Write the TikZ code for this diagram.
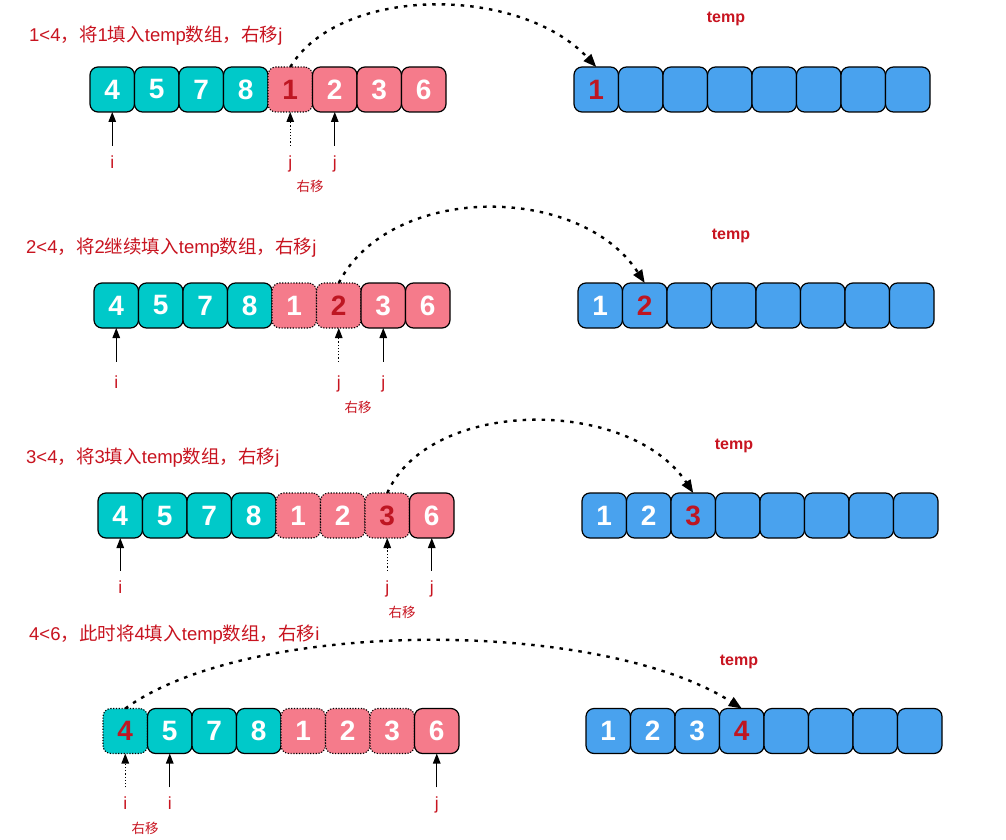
\documentclass[tikz,border=0pt]{standalone}
\usepackage{fontspec}
\setmainfont{Liberation Sans}
\newfontfamily\cjk{Noto Sans CJK SC}
\usetikzlibrary{arrows.meta}
\definecolor{tealc}{RGB}{0,201,201}
\definecolor{pinkc}{RGB}{245,123,139}
\definecolor{bluec}{RGB}{73,162,238}
\definecolor{redt}{RGB}{200,20,32}
\definecolor{numred}{RGB}{190,22,34}
\tikzset{
  cell/.style={draw=black, line width=1.2pt, rounded corners=8pt,
    minimum width=44.5pt, minimum height=45pt, inner sep=0pt, outer sep=0pt,
    text=white, font=\fontsize{28}{28}\selectfont\bfseries},
  dotb/.style={line width=1.1pt, dash pattern=on 1.2pt off 1.6pt},
  tl/.style={cell, fill=tealc},
  tlm/.style={tl, dotb, text=numred},
  pk/.style={cell, fill=pinkc},
  pkd/.style={pk, dotb},
  pkm/.style={pk, dotb, text=numred},
  bl/.style={cell, fill=bluec},
  blr/.style={bl, text=numred},
  ptr/.style={line width=1.3pt, -{Triangle[length=10pt,width=7.5pt]}, shorten <=10pt},
  ptrd/.style={ptr, dash pattern=on 1.2pt off 2pt},
  lab/.style={anchor=base, inner sep=0pt, text=redt, text height=12pt, text depth=4pt,
    font=\fontsize{17.5}{17.5}\selectfont},
  mv/.style={inner sep=0pt, text=redt, font=\cjk\fontsize{13.5}{13.5}\selectfont},
  ttl/.style={anchor=base west, inner sep=0pt, text=redt, font=\fontsize{18.5}{18.5}\selectfont},
  tmp/.style={anchor=base, inner sep=0pt, text=redt, font=\fontsize{16}{16}\selectfont\bfseries},
  curve/.style={line width=2.4pt, dash pattern=on 3.5pt off 6pt, -{Triangle[length=13pt,width=10pt]}}
}
\begin{document}
\begin{tikzpicture}[x=1pt,y=-1pt]
\useasboundingbox (0,0) rectangle (1006,840);
\fill[white] (0,0) rectangle (1006,840);

% ---------- row 1 ----------
\node[ttl] (h1) at (29,42) {1<4{\cjk ，将}1{\cjk 填入}temp{\cjk 数组，右移}j};
\node[tmp] (tp1) at (726,23) {temp};
\foreach \v/\s [count=\k] in {4/tl,5/tl,7/tl,8/tl,1/pkm,2/pk,3/pk,6/pk}
  \node[\s] (L1-\k) at ({90+22.25+(\k-1)*44.5},89.5) {\v};
\foreach \v/\s [count=\k] in {1/blr, /bl, /bl, /bl, /bl, /bl, /bl, /bl}
  \node[\s] (T1-\k) at ({574+22.25+(\k-1)*44.5},89.5) {\v};
\node[lab] (a1) at ([yshift=-56pt]L1-1.south) {i};
\node[lab] (b1) at ([yshift=-56pt]L1-5.south) {j};
\node[lab] (c1) at ([yshift=-56pt]L1-6.south) {j};
\node[mv] (m1) at (310,186) {右移};
\draw[ptr] (a1.north) -- (L1-1.south);
\draw[ptrd] (b1.north) -- (L1-5.south);
\draw[ptr] (c1.north) -- (L1-6.south);
\draw[curve] (L1-5.north) .. controls (340,-15) and (520,-15) .. (T1-1.north);

% ---------- row 2 ----------
\node[ttl] (h2) at (26,253) {2<4{\cjk ，将}2{\cjk 继续填入}temp{\cjk 数组，右移}j};
\node[tmp] (tp2) at (731,239) {temp};
\foreach \v/\s [count=\k] in {4/tl,5/tl,7/tl,8/tl,1/pkd,2/pkm,3/pk,6/pk}
  \node[\s] (L2-\k) at ({94+22.25+(\k-1)*44.5},305.5) {\v};
\foreach \v/\s [count=\k] in {1/bl, 2/blr, /bl, /bl, /bl, /bl, /bl, /bl}
  \node[\s] (T2-\k) at ({578+22.25+(\k-1)*44.5},305.5) {\v};
\node[lab] (a2) at ([yshift=-60pt]L2-1.south) {i};
\node[lab] (b2) at ([yshift=-60pt]L2-6.south) {j};
\node[lab] (c2) at ([yshift=-60pt]L2-7.south) {j};
\node[mv] (m2) at (358,407) {右移};
\draw[ptr, shorten <=14pt] (a2.north) -- (L2-1.south);
\draw[ptrd, shorten <=14pt] (b2.north) -- (L2-6.south);
\draw[ptr, shorten <=14pt] (c2.north) -- (L2-7.south);
\draw[curve] (L2-6.north) .. controls (390,183) and (580,183) .. (T2-2.north);

% ---------- row 3 ----------
\node[ttl] (h3) at (26,463) {3<4{\cjk ，将}3{\cjk 填入}temp{\cjk 数组，右移}j};
\node[tmp] (tp3) at (734,449) {temp};
\foreach \v/\s [count=\k] in {4/tl,5/tl,7/tl,8/tl,1/pkd,2/pkd,3/pkm,6/pk}
  \node[\s] (L3-\k) at ({98+22.25+(\k-1)*44.5},515.5) {\v};
\foreach \v/\s [count=\k] in {1/bl, 2/bl, 3/blr, /bl, /bl, /bl, /bl, /bl}
  \node[\s] (T3-\k) at ({582+22.25+(\k-1)*44.5},515.5) {\v};
\node[lab] (a3) at ([yshift=-55pt]L3-1.south) {i};
\node[lab] (b3) at ([yshift=-55pt]L3-7.south) {j};
\node[lab] (c3) at ([yshift=-55pt]L3-8.south) {j};
\node[mv] (m3) at (402,612) {右移};
\draw[ptr] (a3.north) -- (L3-1.south);
\draw[ptrd] (b3.north) -- (L3-7.south);
\draw[ptr] (c3.north) -- (L3-8.south);
\draw[curve] (L3-7.north) .. controls (430,397) and (630,397) .. (T3-3.north);

% ---------- row 4 ----------
\node[ttl] (h4) at (29,640) {4<6{\cjk ，此时将}4{\cjk 填入}temp{\cjk 数组，右移}i};
\node[tmp] (tp4) at (739,665) {temp};
\foreach \v/\s [count=\k] in {4/tlm,5/tl,7/tl,8/tl,1/pkd,2/pkd,3/pkd,6/pk}
  \node[\s] (L4-\k) at ({103+22.25+(\k-1)*44.5},731) {\v};
\foreach \v/\s [count=\k] in {1/bl, 2/bl, 3/bl, 4/blr, /bl, /bl, /bl, /bl}
  \node[\s] (T4-\k) at ({586+22.25+(\k-1)*44.5},731) {\v};
\node[lab] (a4) at ([yshift=-56pt]L4-1.south) {i};
\node[lab] (b4) at ([yshift=-56pt]L4-2.south) {i};
\node[lab] (c4) at ([yshift=-56pt]L4-8.south) {j};
\node[mv] (m4) at (145,828) {右移};
\draw[ptrd] (a4.north) -- (L4-1.south);
\draw[ptr] (b4.north) -- (L4-2.south);
\draw[ptr] (c4.north) -- (L4-8.south);
\draw[curve] (L4-1.north) .. controls (250,618) and (600,618) .. (T4-4.north);
\end{tikzpicture}
\end{document}
